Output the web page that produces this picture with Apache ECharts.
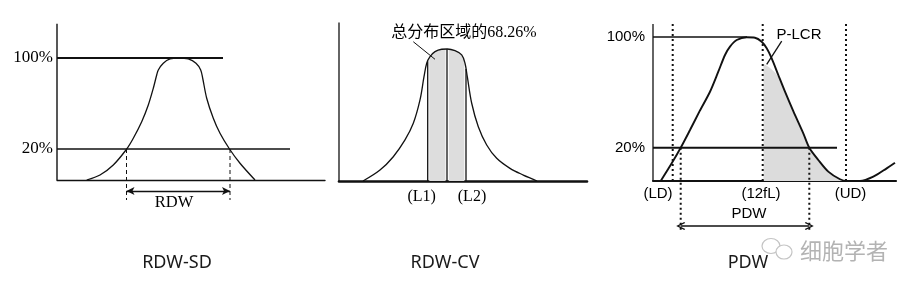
<!DOCTYPE html>
<html><head><meta charset="utf-8">
<script src="https://cdn.jsdelivr.net/npm/echarts@6/dist/echarts.min.js"></script>
<style>html,body{margin:0;padding:0;background:#fff}#c{width:916px;height:292px}</style>
</head><body><div id="c"></div><script>
// ---------- Panel 1: RDW-SD ----------
const sdCurve = [[29.7,0],[43,4.1],[56.3,12.3],[69.7,25.4],[76.3,34.2],[84.7,47.8],[91.3,61.5],[96.3,75.2],[99.7,86.1],[101.3,90.2],[106.3,95.7],[113,99.2],[121.3,100],[131.3,99.2],[139,95.7],[143.7,90.2],[145.7,83.4],[149.7,67],[156.3,50.6],[163,38.3],[172.5,25.4],[183,13.7],[198,0]];
const sdLevel100 = [[0,100],[166,100]];
const sdLevel20 = [[0,25.4],[233,25.4]];
const sdDashL = [[69.5,25.4],[69.5,-16.4]];
const sdDashR = [[173,25.4],[173,-16.4]];
const sdArrow = [[69.5,-9],[173,-9]];
const sdLabels = [{t:'100%',v:[0,100]},{t:'20%',v:[0,25.4]}];
const sdCenterLabels = [{t:'RDW',v:[117,-18.4]}];

// ---------- Panel 2: RDW-CV ----------
const cvCurve = [[24,0],[41,8.3],[54.3,18.4],[66,31.1],[74.3,43.7],[81,61.4],[85,79],[87.7,89.2],[91,94.2],[96,98],[102.7,99.8],[108.3,100],[116,98.7],[122.7,95.5],[126,89.2],[128.3,79],[132.7,58.9],[139.3,41.1],[147.7,27.3],[157.7,17.2],[171,9.6],[184.3,4.5],[194.3,1.3],[198,0]];
const cvFillL = [[90.3,93.4],[96,98],[102.7,99.8],[106.5,100]];
const cvFillR = [[109.8,100],[116,98.7],[122.7,95.5],[125.3,91]];
const cvLineL1 = [[88.7,0],[88.7,90.7]];
const cvLineMid = [[108,0],[108,100]];
const cvLineL2 = [[127,0],[127,84.8]];
const cvLeader = [[74.3,105.5],[96,92.2]];
const cvLabels = [{t:'总分布区域的68.26%',v:[125,111.9]},{t:'(L1)',v:[82.7,-11.9]},{t:'(L2)',v:[133,-11.9]}];

// ---------- Panel 3: PDW ----------
const pdwCurve = [[7.7,0],[18.7,12.3],[27.7,23.1],[37,35.4],[47,49],[57,62],[65.3,75.9],[72,87.5],[77,93.3],[83.7,97.9],[93.7,99.8],[102,99.5],[108.7,96.7],[113.7,92.2],[118.7,85.2],[125.3,73.6],[132,62],[140.3,48.5],[150.3,33.1],[156.3,23.1],[165.3,14.6],[175.3,6.5],[187,1.2],[193.7,0],[207,0],[220.3,3],[233.7,8.8],[242,12.7]];
const pdwFill = [[110.5,81.5],[116,79],[121,76],[125.3,72.5],[132,61.3],[140.3,47.9],[150.3,32.6],[156.3,22.8],[165.3,14.3],[175.3,6.2],[187,1],[192,0]];
const pdwLevel100 = [[0,100],[94,100]];
const pdwLevel20 = [[0,23.1],[184,23.1]];
const pdwDotLD = [[19.7,0],[19.7,109]];
const pdwDot12 = [[109.7,0],[109.7,109]];
const pdwDotUD = [[193,0],[193,109]];
const pdwDotA = [[27.7,23.1],[27.7,-34]];
const pdwDotB = [[156.3,23.1],[156.3,-34]];
const pdwArrow = [[27.7,-31.3],[156.3,-31.3]];
const pdwLeader = [[128.7,97.2],[113.7,81]];
const pdwSideLabels = [{t:'100%',v:[0,100]},{t:'20%',v:[0,23.1]}];
const pdwLabels = [{t:'(LD)',v:[5,-9.2]},{t:'(12fL)',v:[108,-9.2]},{t:'(UD)',v:[197.5,-9.2]},{t:'PDW',v:[96,-22.6]},{t:'P-LCR',v:[146,101.4]}];

const captions = ['RDW-SD','RDW-CV','PDW'];
const watermark = '细胞学者';

// ---------- build ----------
const INK = '#000';
const SERIF = "'Liberation Serif','DejaVu Serif','Noto Sans CJK SC',serif";
const SANS = "'Liberation Sans',Arial,sans-serif";

const grids = [
  {left:57, top:23.84, width:268, height:217.16},
  {left:339, top:22.6, width:248, height:224.4},
  {left:653, top:24.04, width:243, height:221.76}
];
const yRanges = [[-50,128],[-50,120],[-45,109]];
const xWidths = [268,248,243];
const xAxisW = [1.4,2.6,2.2];

const xAxis = grids.map((g,i)=>({gridIndex:i,type:'value',min:0,max:xWidths[i],
  axisLine:{show:true,onZero:true,lineStyle:{color:'#111',width:xAxisW[i]}},
  axisTick:{show:false},axisLabel:{show:false},splitLine:{show:false}}));
const yAxis = grids.map((g,i)=>({gridIndex:i,type:'value',min:yRanges[i][0],max:yRanges[i][1],
  axisLine:{show:false},axisTick:{show:false},axisLabel:{show:false},splitLine:{show:false}}));

function line(gi, data, opt){
  opt = opt||{};
  return Object.assign({type:'line',xAxisIndex:gi,yAxisIndex:gi,data:data,symbol:'none',silent:true,
    smooth:opt.smooth||false,z:opt.z||3,clip:false,
    lineStyle:{color:'#111',width:opt.w||1.3,type:opt.type||'solid',opacity:opt.noLine?0:1}},
    opt.area?{areaStyle:{color:opt.area,opacity:1}}:{} ,
    opt.markLine?{markLine:opt.markLine}:{});
}
function labels(gi, arr, font, size, pos, dist){
  return {type:'scatter',xAxisIndex:gi,yAxisIndex:gi,symbolSize:0,silent:true,z:5,clip:false,
    itemStyle:{opacity:1},
    data:arr.map(d=>({name:d.t,value:d.v})),
    label:{show:true,formatter:'{b}',position:pos,distance:dist||0,color:INK,opacity:1,fontFamily:font,fontSize:size}};
}
function arrow(pts, sym, size, w){
  return {silent:true,symbol:[sym,sym],symbolSize:size,animation:false,
    label:{show:false},lineStyle:{type:'solid',color:'#111',width:w},
    emphasis:{disabled:true},
    data:[[{coord:pts[0]},{coord:pts[1]}]]};
}
const chevron = 'path://M5,0 L10,8.5 L8.8,9.5 L5,3 L1.2,9.5 L0,8.5 Z';

const series = [
  // panel 1
  line(0, [[0,0],[0,128]], {w:1.4}),
  line(0, sdCurve, {smooth:0.3, w:1.3}),
  line(0, sdLevel100, {w:2}),
  line(0, sdLevel20, {w:1.3, markLine: arrow(sdArrow,'arrow',[6,8],1.4)}),
  line(0, sdDashL, {w:1, type:[4,3]}),
  line(0, sdDashR, {w:1, type:[4,3]}),
  labels(0, sdLabels, SERIF, 17, 'left', 4),
  labels(0, sdCenterLabels, SERIF, 16.5, 'inside'),
  // panel 2
  line(1, [[0,0],[0,120]], {w:1.3}),
  line(1, cvFillL, {smooth:0.3, area:'#dddddd', noLine:true, z:1}),
  line(1, cvFillR, {smooth:0.3, area:'#dddddd', noLine:true, z:1}),
  line(1, cvCurve, {smooth:0.35, w:1.3}),
  line(1, cvLineL1, {w:1.3}),
  line(1, cvLineMid, {w:1.3}),
  line(1, cvLineL2, {w:1.3}),
  line(1, cvLeader, {w:1}),
  labels(1, cvLabels, SERIF, 16, 'inside'),
  // panel 3
  line(2, [[0,0],[0,109]], {w:1.3}),
  line(2, pdwFill, {smooth:0.3, area:'#dcdcdc', noLine:true, z:1}),
  line(2, pdwCurve, {smooth:0.3, w:1.9}),
  line(2, pdwLevel100, {w:1.4}),
  line(2, pdwLevel20, {w:2, markLine: arrow(pdwArrow, chevron, [8,9], 1.6)}),
  line(2, pdwDotLD, {w:2, type:[2,3]}),
  line(2, pdwDot12, {w:2, type:[2,3]}),
  line(2, pdwDotUD, {w:2, type:[2,3]}),
  line(2, pdwDotA, {w:2, type:[2,3]}),
  line(2, pdwDotB, {w:2, type:[2,3]}),
  line(2, pdwLeader, {w:1.3}),
  labels(2, pdwSideLabels, SANS, 15, 'left', 8),
  labels(2, pdwLabels, SANS, 15, 'inside')
];

const capX = [177,445,748];
const graphic = captions.map((c,i)=>({type:'text',x:capX[i],y:263,silent:true,
  style:{text:c,textAlign:'center',textVerticalAlign:'middle',fill:'#1a1a1a',font:"18px 'Noto Sans','Open Sans',sans-serif"}}));
graphic.push({type:'text',x:844,y:251,silent:true,z:0,
  style:{text:watermark,textAlign:'center',textVerticalAlign:'middle',fill:'#b3b3b3',font:"22px 'Noto Sans CJK SC',sans-serif"}});
graphic.push({type:'ellipse',silent:true,z:0,shape:{cx:771,cy:246,rx:9,ry:7.5},style:{fill:'#fff',stroke:'#c4c4c4',lineWidth:1.2}});
graphic.push({type:'ellipse',silent:true,z:0,shape:{cx:784,cy:252,rx:8,ry:7},style:{fill:'#fff',stroke:'#c4c4c4',lineWidth:1.2}});

const chart = echarts.init(document.getElementById('c'));
chart.setOption({animation:false,backgroundColor:'#fff',grid:grids,xAxis:xAxis,yAxis:yAxis,series:series,graphic:graphic});
</script></body></html>
